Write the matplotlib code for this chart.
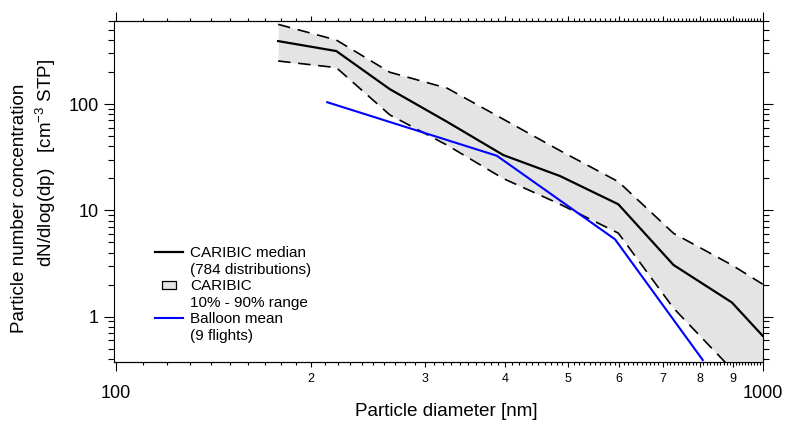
import matplotlib
matplotlib.use('Agg')
import matplotlib.pyplot as plt
from matplotlib.lines import Line2D
from matplotlib.path import Path
from matplotlib.ticker import FixedLocator, FixedFormatter, NullFormatter

plt.rcParams['font.family'] = ['Liberation Sans', 'DejaVu Sans']
plt.rcParams['mathtext.fontset'] = 'custom'
plt.rcParams['mathtext.rm'] = 'Liberation Sans'
plt.rcParams['mathtext.it'] = 'Liberation Sans:italic'
plt.rcParams['lines.scale_dashes'] = False

# CARIBIC size distribution
diam = [178, 219, 265, 325, 397, 486, 598, 728, 896, 1000]   # nm
median = [391, 315, 138, 68, 33.1, 21.0, 11.4, 3.06, 1.36, 0.66]
p90 = [562, 400, 199, 141, 72, 36.4, 18.6, 6.08, 3.06, 2.02]
p10 = [254, 220, 79, 41, 19.9, 11.4, 6.1, 1.2, 0.32, 0.2]

# balloon mean (9 flights)
balloon_d = [212, 388, 591, 808]
balloon_n = [104, 32.6, 5.34, 0.39]

# axis ticks
x_major = [100, 1000]
x_major_lbl = ['100', '1000']
x_minor = [200, 300, 400, 500, 600, 700, 800, 900]
x_minor_lbl = ['2', '3', '4', '5', '6', '7', '8', '9']
x_sub = [v for v in range(110, 1000, 10) if v % 100 != 0]
y_major = [1, 10, 100]
y_major_lbl = ['1', '10', '100']

fig = plt.figure(figsize=(7.85, 4.26), dpi=100)
ax = fig.add_axes([0.1452, 0.1502, 0.8274, 0.8005])

ax.fill_between(diam, p10, p90, color='#e4e4e4', linewidth=0, zorder=1)
ax.plot(diam, p90, color='k', lw=1.2, dashes=(9, 5.5), zorder=2)
ax.plot(diam, p10, color='k', lw=1.2, dashes=(9, 5.5), zorder=2)
ax.plot(diam, median, color='k', lw=1.6, zorder=3)
ax.plot(balloon_d, balloon_n, color='#0000ff', lw=1.5, zorder=4)

ax.set_xscale('log')
ax.set_yscale('log')
ax.set_xlim(99.2, 1003)
ax.set_ylim(0.374, 604)

# x ticks: decades + labelled 2..9
ax.xaxis.set_major_locator(FixedLocator(x_major))
ax.xaxis.set_major_formatter(FixedFormatter(x_major_lbl))
ax.xaxis.set_minor_locator(FixedLocator(x_minor))
ax.xaxis.set_minor_formatter(FixedFormatter(x_minor_lbl))
ax.yaxis.set_major_locator(FixedLocator(y_major))
ax.yaxis.set_major_formatter(FixedFormatter(y_major_lbl))
ax.yaxis.set_minor_formatter(NullFormatter())
ax.tick_params(axis='x', which='major', direction='out', top=True, length=6.8, width=0.8,
               labelsize=13, pad=9.5)
ax.tick_params(axis='x', which='minor', direction='out', top=True, length=3.3, width=0.8,
               labelsize=9, pad=4.3)
ax.tick_params(axis='y', which='major', direction='out', right=True, length=7.2, width=0.8,
               labelsize=13, pad=4)
ax.tick_params(axis='y', which='minor', direction='out', right=True, length=4.3, width=0.8)

# smallest ticks every 10 nm
for side in ['bottom', 'top']:
    sec = ax.secondary_xaxis(side)
    sec.set_xticks(x_sub)
    sec.tick_params(which='major', length=1.9, width=0.8, direction='out',
                    labelbottom=False, labeltop=False)
    sec.tick_params(which='minor', length=0, labelbottom=False, labeltop=False)
    for s in sec.spines.values():
        s.set_linewidth(0.8)

for s in ax.spines.values():
    s.set_linewidth(0.8)

fig.text(446 / 785, 1 - 412 / 426, 'Particle diameter [nm]', ha='center', va='center', fontsize=13.6)
fig.text(20 / 785, 1 - 208 / 426, 'Particle number concentration', rotation=90,
         ha='center', va='center', fontsize=13.6)
fig.text(46 / 785, 1 - 163 / 426, r'dN/dlog(dp)   [cm$^{-3}$ STP]', rotation=90,
         ha='center', va='center', fontsize=13.6)

blank = Line2D([], [], color='none')
box = Path([(-1, -0.55), (1, -0.55), (1, 0.55), (-1, 0.55), (-1, -0.55)], closed=True)
handles = [Line2D([], [], color='k', lw=1.6), blank,
           Line2D([], [], ls='none', marker=box, ms=10, mfc='#e4e4e4', mec='k', mew=0.9), blank,
           Line2D([], [], color='#0000ff', lw=1.5), blank]
labels = ['CARIBIC median', '(784 distributions)', 'CARIBIC', '10% - 90% range',
          'Balloon mean', '(9 flights)']
fig.legend(handles, labels, loc='upper left', bbox_to_anchor=(155 / 785, 1 - 246 / 426),
           frameon=False, fontsize=11, handlelength=1.8, handletextpad=0.5,
           labelspacing=0.17, borderpad=0, borderaxespad=0, numpoints=1)

fig.savefig('out.png', dpi=100)
